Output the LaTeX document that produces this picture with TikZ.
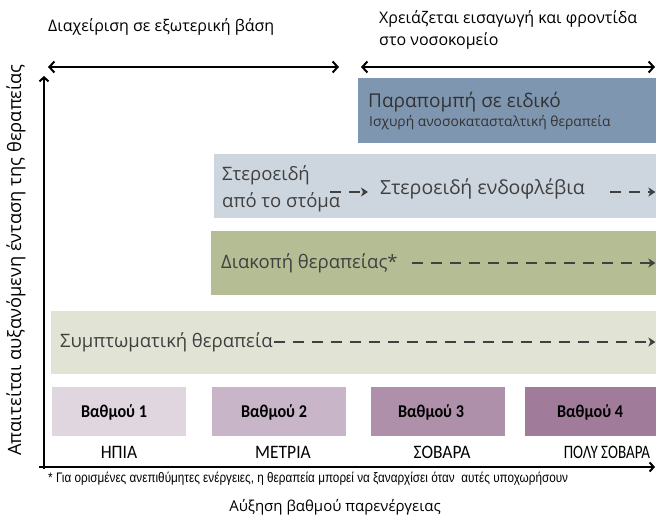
\documentclass[tikz,border=0pt]{standalone}
\usepackage{fontspec}
\setmainfont{Open Sans}
\newfontfamily\gradefont[FakeStretch=0.9]{Carlito}
\newfontfamily\sevfont[FakeStretch=0.92]{Carlito}
\newfontfamily\notefont[FakeStretch=0.85]{Liberation Sans}
\usetikzlibrary{arrows.meta,positioning}
\definecolor{cRefer}{HTML}{7F96B0}
\definecolor{cSter}{HTML}{CDD5DF}
\definecolor{cStop}{HTML}{B5BD94}
\definecolor{cSymp}{HTML}{E1E4D5}
\definecolor{cGa}{HTML}{E0D6E0}
\definecolor{cGb}{HTML}{C8B6C8}
\definecolor{cGc}{HTML}{AE90AA}
\definecolor{cGd}{HTML}{A07C9A}
\definecolor{cText}{HTML}{404040}

\begin{document}
\begin{tikzpicture}[x=1pt,y=-1pt,
  band/.style={inner sep=0,anchor=north west},
  txt/.style={inner sep=0,anchor=west,text=cText,font=\fontsize{18.5}{22}\selectfont},
  toplab/.style={inner sep=0,anchor=west,font=\fontsize{16}{22}\selectfont},
  grade/.style={font=\gradefont\bfseries\fontsize{18}{20}\selectfont},
  sev/.style={font=\sevfont\fontsize{19}{21}\selectfont},
  dasharrow/.style={draw=cText,line width=2.8pt,dash pattern=on 11pt off 8pt,-{Stealth[length=7pt,width=9pt,inset=2pt]}},
  span/.style={line width=2pt,{Straight Barb[length=5pt,width=11pt]}-{Straight Barb[length=5pt,width=11pt]}},
  axis/.style={line width=2pt,-{Straight Barb[length=4pt,width=9pt]}}]
\useasboundingbox (0,0) rectangle (656,520);
% treatment bands
\node[band,fill=cRefer,minimum width=298pt,minimum height=65pt] (refer) at (358,78) {};
\node[band,fill=cSter,minimum width=442pt,minimum height=64pt] (ster) at (214,154) {};
\node[band,fill=cStop,minimum width=445pt,minimum height=64pt] (stop) at (211,231) {};
\node[band,fill=cSymp,minimum width=605pt,minimum height=63pt] (symp) at (51,311) {};
\node[txt,text=black!80,font=\fontsize{19}{22}\selectfont] (refertxt) at (368,102) {Παραπομπή σε ειδικό};
\node[txt,text=black!80,font=\fontsize{13.8}{16}\selectfont] (refersub) at (369,123) {Ισχυρή ανοσοκατασταλτική θεραπεία};
\node[txt,align=left,font=\fontsize{18.5}{27}\selectfont] (oral) at (222,189) {Στεροειδή\\από το στόμα};
\node[txt,font=\fontsize{19.5}{22}\selectfont] (iv) at (380,189) {Στεροειδή ενδοφλέβια};
\node[txt] (stoptxt) at (221,263) {Διακοπή θεραπείας*};
\node[txt] (symptxt) at (60,342) {Συμπτωματική θεραπεία};
\draw[dasharrow] ([xshift=-10pt,yshift=-3pt]oral.east |- iv.west) -- ([xshift=-12pt,yshift=-3pt]iv.west);
\draw[dasharrow] ([xshift=25pt,yshift=-3pt]iv.east) -- ([xshift=-1pt,yshift=-3pt]iv.east -| ster.east);
\draw[dasharrow] ([xshift=14pt]stoptxt.east) -- ([xshift=-1pt]stoptxt.east -| stop.east);
\draw[dasharrow] ([xshift=1pt]symptxt.east) -- ([xshift=-1pt]symptxt.east -| symp.east);
% grades
\foreach \g/\x/\w/\c/\tx/\s/\sx in {1/52/134/cGa/114/ΗΠΙΑ/119, 2/212/134/cGb/274/ΜΕΤΡΙΑ/283, 3/371/134/cGc/431/ΣΟΒΑΡΑ/442, 4/525/131/cGd/590/\scalebox{0.86}[1]{ΠΟΛΥ ΣΟΒΑΡΑ}/607}{
  \node[band,fill=\c,minimum width=\w pt,minimum height=49pt] (g\g) at (\x,387) {};
  \node[grade] (g\g txt) at (\tx,412) {Βαθμού \g};
  \node[sev] (sev\g) at (\sx,452) {\s};
}
% axes
\coordinate (xstart) at (39,467); \coordinate (xend) at (655,467);
\coordinate (yfoot) at (44,469); \coordinate (ytop) at (44,76);
\draw[axis] (xstart) -- (xend);
\draw[axis] (yfoot) -- (ytop);
\node[rotate=90,font=\fontsize{18.3}{20}\selectfont] (ylab) at (16,260) {Απαιτείται αυξανόμενη ένταση της θεραπείας};
\node[font=\fontsize{15}{18}\selectfont] (xlab) at (335,507) {Αύξηση βαθμού παρενέργειας};
\node[inner sep=0,anchor=west,font=\notefont\fontsize{13.8}{15}\selectfont] (note) at (48,479) {* Για ορισμένες ανεπιθύμητες ενέργειες, η θεραπεία μπορεί να ξαναρχίσει όταν\ \ αυτές υποχωρήσουν};
% setting of care
\node[toplab] (outpat) at (48,27) {Διαχείριση σε εξωτερική βάση};
\node[toplab,align=left] (inpat) at (379,30) {Χρειάζεται εισαγωγή και φροντίδα\\στο νοσοκομείο};
\coordinate (outL) at (48,67); \coordinate (outR) at (339,67);
\coordinate (inL) at (361,67); \coordinate (inR) at (655,67);
\draw[span] (outL) -- (outR);
\draw[span] (inL) -- (inR);
\end{tikzpicture}
\end{document}
